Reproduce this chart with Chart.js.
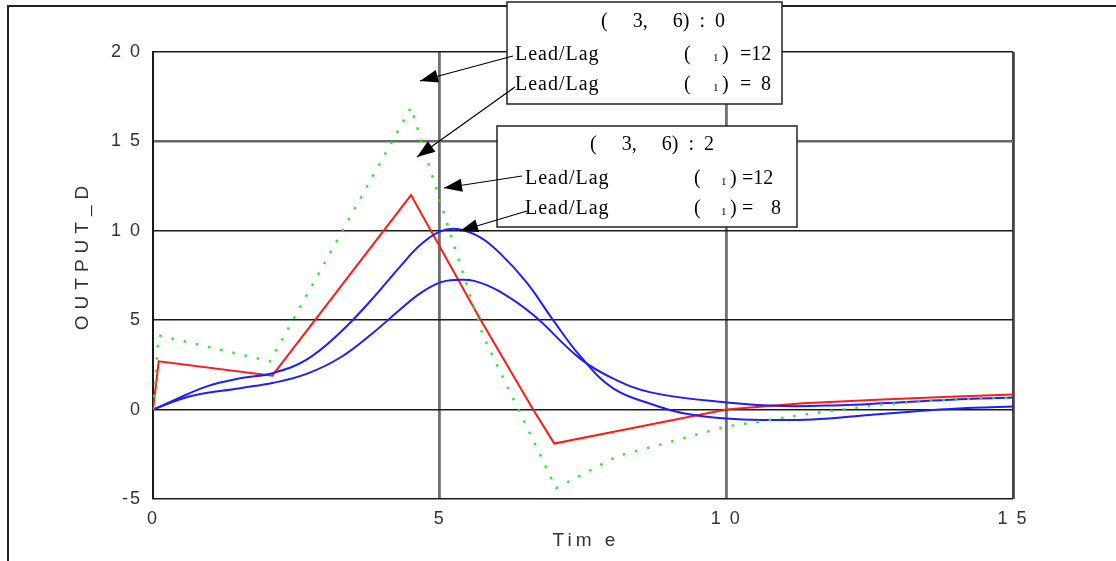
<!DOCTYPE html>
<html><head><meta charset="utf-8">
<script src="https://cdn.jsdelivr.net/npm/chart.js@4.4.0/dist/chart.umd.min.js"></script>
<style>html,body{margin:0;padding:0;background:#fff;}canvas{display:block;}</style>
</head><body>
<canvas id="c" width="1116" height="561"></canvas>
<script>
// ---- data ----
const xTicks = [0, 5, 10, 15];
const xTickLabels = ['0', '5', '1 0', '1 5'];
const yTicks = [-5, 0, 5, 10, 15, 20];
const yTickLabels = ['-5', '0', '5', '1 0', '1 5', '2 0'];
const xTitle = 'Tim e';
const yTitle = 'OUTPUT_D';

const redX = [0, 0.1, 2.08, 4.5, 5.7, 6.63, 7.0, 8.5, 10, 11.34, 12.73, 13.9, 15];
const redY = [0, 2.7, 1.9, 12.0, 5.1, 0.0, -1.9, -0.95, 0.0, 0.35, 0.56, 0.72, 0.84];

const greenX = [0, 0.1, 2.04, 4.5, 5.2, 5.76, 6.63, 7.03, 8.1, 8.97, 10, 11.34, 12.7, 13.9, 15];
const greenY = [0, 4.15, 2.7, 16.9, 9.7, 4.1, -1.7, -4.4, -2.6, -1.85, -0.95, -0.28, 0.28, 0.56, 0.67];

const blue1X = [0, 0.35, 0.94, 1.52, 2.1, 2.68, 3.26, 3.8, 4.31, 4.66, 5.0, 5.3, 5.7, 6.05, 6.52, 6.98, 7.45, 8.02, 8.7, 9.25, 10, 10.7, 11.5, 12.5, 13.5, 14.3, 15];
const blue1Y = [0, 0.5, 1.3, 1.75, 2.05, 2.8, 4.3, 6.1, 8.0, 9.2, 9.95, 10.1, 9.65, 8.75, 7.1, 5.0, 3.0, 1.2, 0.3, -0.2, -0.5, -0.58, -0.55, -0.3, -0.05, 0.1, 0.17];

const blue2X = [0, 0.65, 1.52, 2.1, 2.68, 3.26, 3.84, 4.31, 4.66, 5.0, 5.3, 5.6, 6.05, 6.63, 7.45, 8.02, 8.7, 10, 11, 12, 12.7, 13.9, 15];
const blue2Y = [0, 0.75, 1.2, 1.5, 2.0, 2.9, 4.3, 5.6, 6.5, 7.1, 7.25, 7.2, 6.6, 5.3, 2.85, 1.75, 0.95, 0.4, 0.2, 0.25, 0.35, 0.55, 0.67];

const box1Title = '(     3,     6)  :  0';
const box2Title = '(     3,     6)  :  2';
const rowLabel = 'Lead/Lag';
const rowValues = ['=12', '=  8'];

// ---- build ----
const pts = (xs, ys) => xs.map((x, i) => ({x, y: ys[i]}));

const deco = {
  id: 'deco',
  beforeDraw(chart) { chart.ctx.letterSpacing = '2px'; },
  beforeDatasetsDraw(chart) { chart.ctx.letterSpacing = '0px'; },
  afterDraw(chart) {
    const ctx = chart.ctx;
    ctx.save();
    // outer frame (top + left)
    ctx.strokeStyle = '#222'; ctx.lineWidth = 2;
    ctx.beginPath(); ctx.moveTo(8, 561); ctx.lineTo(8, 6); ctx.lineTo(1116, 6); ctx.stroke();

    // axis titles
    ctx.fillStyle = '#333';
    ctx.font = '19px "Liberation Sans", Arial, sans-serif';
    ctx.textAlign = 'center'; ctx.textBaseline = 'middle';
    ctx.letterSpacing = '4px';
    ctx.fillText(xTitle, 586, 541);
    ctx.save();
    ctx.translate(83, 258); ctx.rotate(-Math.PI / 2);
    ctx.letterSpacing = '6px';
    ctx.fillText(yTitle, 3, 0);
    ctx.restore();
    ctx.letterSpacing = '0px';

    const box = (x, y, w, h) => {
      ctx.fillStyle = '#fff'; ctx.fillRect(x, y, w, h);
      ctx.strokeStyle = '#222'; ctx.lineWidth = 1.5; ctx.strokeRect(x, y, w, h);
    };
    const arrow = (x1, y1, x2, y2) => {
      ctx.strokeStyle = '#000'; ctx.lineWidth = 1.2;
      ctx.beginPath(); ctx.moveTo(x1, y1); ctx.lineTo(x2, y2); ctx.stroke();
      const a = Math.atan2(y2 - y1, x2 - x1), L = 18, W = 6.5;
      const bx = x2 - L * Math.cos(a), by = y2 - L * Math.sin(a);
      ctx.fillStyle = '#000';
      ctx.beginPath(); ctx.moveTo(x2, y2);
      ctx.lineTo(bx + W * Math.sin(a), by - W * Math.cos(a));
      ctx.lineTo(bx - W * Math.sin(a), by + W * Math.cos(a));
      ctx.closePath(); ctx.fill();
    };
    const serif = '"Liberation Serif", "Times New Roman", serif';
    const rows = (title, titleX, titleY, labelX, y2, y3, parenX, subX, closeX, eqX, eightX) => {
      ctx.fillStyle = '#000'; ctx.textBaseline = 'middle';
      ctx.font = '20px ' + serif;
      ctx.textAlign = 'center';
      ctx.fillText(title, titleX, titleY);
      ctx.textAlign = 'left';
      ctx.letterSpacing = '1px';
      ctx.fillText(rowLabel, labelX, y2);
      ctx.fillText(rowLabel, labelX, y3);
      ctx.letterSpacing = '0px';
      [y2, y3].forEach((yy, k) => {
        ctx.font = '20px ' + serif;
        ctx.fillText('(', parenX, yy);
        ctx.fillText(')', closeX, yy);
        if (k === 0) ctx.fillText(rowValues[0], eqX, yy);
        else { ctx.fillText('=', eqX, yy); ctx.fillText('8', eightX, yy); }
        ctx.font = '11px ' + serif;
        ctx.fillText('1', subX, yy + 3);
      });
    };
    box(507, 2, 275, 102);
    rows(box1Title, 663, 22, 515, 55, 85, 684, 713, 722, 740, 761);
    box(497, 126, 300, 101);
    rows(box2Title, 652, 145, 525, 179, 209, 694, 721, 730, 742, 771);

    arrow(513, 56, 420, 81);
    arrow(515, 87, 417, 157);
    arrow(522, 176, 444, 188);
    arrow(527, 211, 460, 231);
    ctx.restore();
  }
};

const tickFont = {family: '"Liberation Sans", Arial, sans-serif', size: 18};

new Chart(document.getElementById('c'), {
  type: 'scatter',
  data: {
    datasets: [
      {label: 'green', data: pts(greenX, greenY), showLine: true, borderColor: '#2ee82e',
       borderWidth: 2.5, borderDash: [2.5, 10], pointRadius: 0, tension: 0},
      {label: 'blue1', data: pts(blue1X, blue1Y), showLine: true, borderColor: '#1e1eff',
       borderWidth: 2, pointRadius: 0, tension: 0.4},
      {label: 'blue2', data: pts(blue2X, blue2Y), showLine: true, borderColor: '#1e1eff',
       borderWidth: 2, pointRadius: 0, tension: 0.4},
      {label: 'red', data: pts(redX, redY), showLine: true, borderColor: '#ff1a1a',
       borderWidth: 2, pointRadius: 0, tension: 0}
    ]
  },
  options: {
    responsive: false,
    animation: false,
    events: [],
    layout: {padding: {top: 52, right: 103, left: 0, bottom: 0}},
    plugins: {legend: {display: false}, tooltip: {enabled: false}},
    scales: {
      x: {
        type: 'linear', min: 0, max: 15,
        afterBuildTicks: s => { s.ticks = xTicks.map(v => ({value: v})); },
        afterFit: s => { s.height = 62; },
        ticks: {
          callback: v => { const i = xTicks.indexOf(v); return i >= 0 ? xTickLabels[i] : ''; },
          color: '#333', font: tickFont, padding: 9, maxRotation: 0
        },
        grid: {
          drawTicks: false,
          color: c => c.tick && c.tick.value === 15 ? '#444' : '#6f6f6f',
          lineWidth: c => c.tick && c.tick.value === 0 ? 0 : 2.8
        },
        border: {display: false},
        title: {display: false}
      },
      y: {
        type: 'linear', min: -5, max: 20,
        afterBuildTicks: s => { s.ticks = yTicks.map(v => ({value: v})); },
        afterFit: s => { s.width = 153; },
        ticks: {
          callback: v => { const i = yTicks.indexOf(v); return i >= 0 ? yTickLabels[i] : ''; },
          color: '#333', font: tickFont, padding: 11
        },
        grid: {
          drawTicks: false,
          color: c => c.tick && c.tick.value === 15 ? '#666' : '#1a1a1a',
          lineWidth: c => c.tick && c.tick.value === 15 ? 2.5 : 1.6
        },
        border: {display: true, color: '#1a1a1a', width: 2},
        title: {display: false}
      }
    }
  },
  plugins: [deco]
});
</script>
</body></html>
